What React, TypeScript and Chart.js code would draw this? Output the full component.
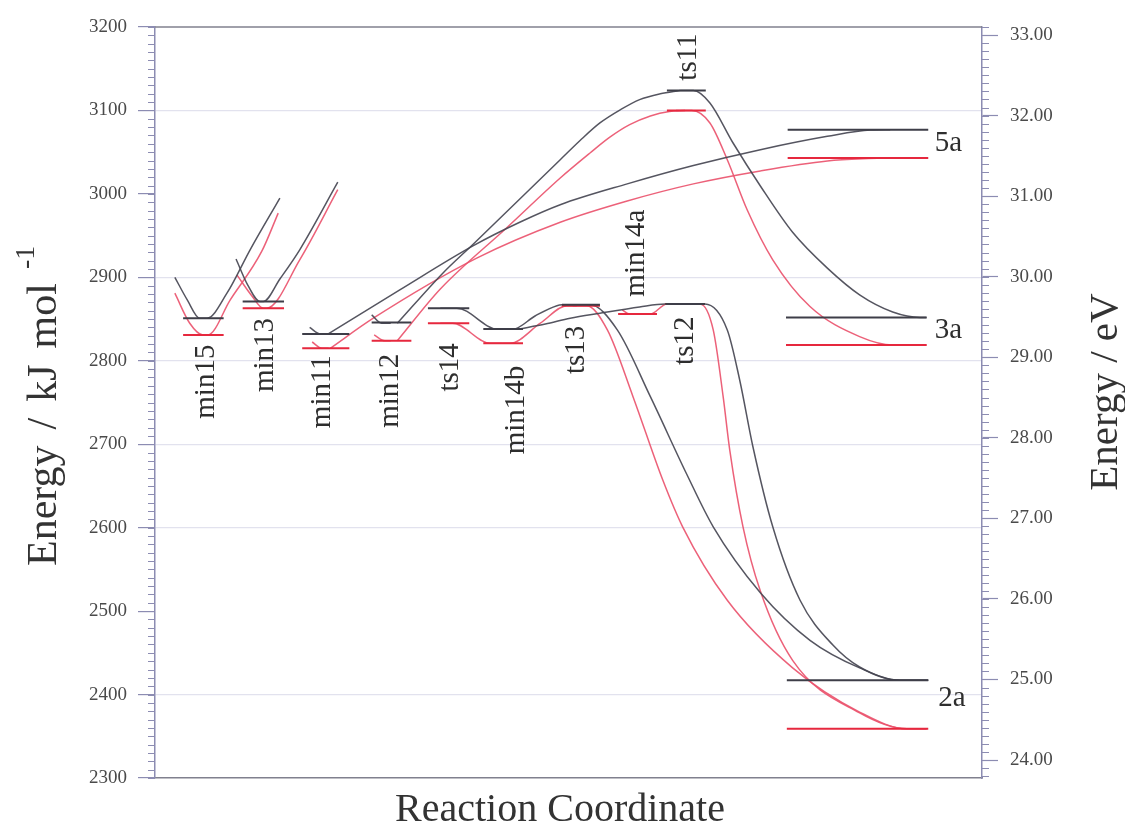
import React, { useEffect, useRef } from 'react';
import { Chart, registerables } from 'chart.js';

Chart.register(...registerables);

const SERIF = "'Liberation Serif', 'Times New Roman', Times, serif";

// ---- axis ticks ----
const kjTicks = [2300, 2400, 2500, 2600, 2700, 2800, 2900, 3000, 3100, 3200];
const evTicks = [24, 25, 26, 27, 28, 29, 30, 31, 32, 33];
const kjGridLines = [2400, 2600, 2700, 2800, 2900, 3100];

// ---- energy levels (x in reaction-coordinate units 0..100, energy in kJ/mol) ----
const levelNames = ['min15', 'min13', 'min11', 'min12', 'ts14', 'min14b', 'ts13', 'min14a', 'ts12', 'ts11', '5a', '3a', '2a'];
const levelStart = [3.4, 10.6, 17.8, 26.2, 33.0, 39.7, 49.2, 56.0, 61.7, 61.9, 76.5, 76.3, 76.4];
const levelEnd = [8.3, 15.6, 23.5, 31.0, 38.0, 44.5, 53.8, 60.7, 66.5, 66.6, 93.5, 93.3, 93.5];
const levelBlack = [2851, 2871, 2832, 2846, 2863, 2838, 2867, null, 2868, 3124, 3077, 2852, 2417];
const levelRed = [2831, 2863, 2815, 2824, 2845, 2821, 2866, 2856, 2868, 3100, 3043, 2819, 2359];

// ---- level labels ----
const labelX = [6.2, 13.3, 20.3, 28.5, 35.7, 43.7, 51.0, 58.2, 64.1, 64.5, 94.3, 94.3, 94.7];
const labelY = [2775, 2807, 2763, 2764, 2792, 2741, 2813, 2929, 2824, 3164, 3060, 2837, 2396];
const labelVertical = [true, true, true, true, true, true, true, true, true, true, false, false, false];

// ---- connecting curves: black ----
const blkMin15 = [[2.4, 2900], [3.9, 2873], [5.4, 2851], [6.3, 2851], [8.7, 2881], [11.5, 2933], [15.1, 2995]];
const blkMin13 = [[9.8, 2922], [11.2, 2891], [12.7, 2871], [13.1, 2871], [15.1, 2898], [17.5, 2933], [22.1, 3014]];
const blkMin11Hook = [[18.7, 2840], [20.0, 2832], [21.0, 2832]];
const blkMin11To5a = [[20.9, 2832], [29.6, 2885], [38.5, 2938], [44.1, 2966], [49.0, 2987], [57.1, 3012], [65.1, 3034], [73.2, 3053], [81.3, 3069], [86.5, 3076.6], [88.9, 3077]];
const blkMin12Hook = [[26.2, 2855], [27.4, 2845], [28.5, 2845]];
const blkMin12ToTs11 = [[29.3, 2845], [34.8, 2905], [38.5, 2940], [49.0, 3041], [51.4, 3064], [53.8, 3085], [56.3, 3101], [58.6, 3113], [61.1, 3120], [63.5, 3124]];
const blkTs14ToMin14b = [[34.5, 2863], [36.5, 2863], [41.4, 2838], [43.0, 2838]];
const blkMin14bToTs13 = [[42.0, 2838], [43.3, 2838], [46.0, 2854], [48.6, 2866], [49.2, 2867], [50.5, 2867]];
const blkMin14bToTs12 = [[44.0, 2838], [47.2, 2844], [50.2, 2851], [53.8, 2857], [58.6, 2864.5], [61.7, 2868], [63.5, 2868]];
const blkTs13To2a = [[51.0, 2867], [52.6, 2867], [55.9, 2837], [59.9, 2757], [64.3, 2664], [67.5, 2601], [73.2, 2522], [79.2, 2465], [85.2, 2432], [90.1, 2417], [93.5, 2417]];
const blkTs12To2a = [[64.5, 2868], [66.5, 2868], [69.2, 2837], [70.7, 2777], [72.3, 2697], [74.7, 2601], [78.0, 2513], [82.0, 2459], [85.2, 2433], [90.1, 2417], [93.5, 2417]];
const blkTs11To3a = [[63.5, 3124], [65.1, 3124], [67.1, 3109], [69.9, 3061], [73.2, 3009.5], [77.1, 2954], [81.3, 2911], [85.2, 2879], [89.2, 2858.5], [92.5, 2852], [93.3, 2852]];

// ---- connecting curves: red ----
const redMin15 = [[2.4, 2881], [4.2, 2845], [5.8, 2831], [6.4, 2831], [9.1, 2873], [12.9, 2931], [14.9, 2977]];
const redMin13 = [[9.9, 2903], [11.7, 2878], [13.1, 2863], [13.5, 2863], [17.5, 2921], [22.1, 3005]];
const redMin11Hook = [[19.0, 2822.5], [20.2, 2815], [21.0, 2815]];
const redMin11To5a = [[21.2, 2815], [26.4, 2851], [38.9, 2923], [49.0, 2966], [57.1, 2991.5], [65.1, 3012], [73.2, 3027.5], [81.3, 3039.4], [87.7, 3043]];
const redMin12Hook = [[26.5, 2831], [27.8, 2824], [28.5, 2824]];
const redMin12ToTs11 = [[29.3, 2824], [34.5, 2886], [42.6, 2960], [49.0, 3019], [52.6, 3049], [55.0, 3068], [57.4, 3083], [59.9, 3093.4], [62.2, 3098.8], [64.1, 3100]];
const redTs14ToMin14b = [[34.5, 2845], [36.0, 2845], [40.5, 2821], [42.0, 2821]];
const redMin14bToTs13 = [[42.0, 2821], [42.9, 2821], [46.6, 2845], [49.8, 2866], [51.0, 2866]];
const redMin14aHook = [[56.5, 2861], [57.4, 2856], [58.2, 2856]];
const redMin14aToTs12 = [[59.0, 2856], [59.9, 2856], [61.9, 2868], [63.0, 2868]];
const redTs13To2a = [[50.5, 2866], [52.2, 2866], [54.7, 2837], [57.8, 2757], [61.4, 2657], [63.8, 2601], [69.2, 2513], [77.1, 2432], [85.2, 2379], [90.9, 2359], [93.3, 2359]];
const redTs12To2a = [[64.0, 2868], [65.9, 2868], [67.5, 2837], [68.7, 2757], [69.5, 2693], [71.1, 2601], [73.2, 2524], [77.1, 2441], [85.2, 2378], [90.9, 2359], [93.3, 2359]];
const redTs11To3a = [[63.0, 3100], [64.9, 3100], [67.1, 3085], [69.2, 3041], [71.6, 2981], [74.7, 2921], [79.2, 2865], [85.2, 2829], [89.2, 2819], [91.3, 2819], [93.3, 2819]];

const blackCurves = [blkMin15, blkMin13, blkMin11Hook, blkMin11To5a, blkMin12Hook, blkMin12ToTs11, blkTs14ToMin14b, blkMin14bToTs13, blkMin14bToTs12, blkTs13To2a, blkTs12To2a, blkTs11To3a];
const redCurves = [redMin15, redMin13, redMin11Hook, redMin11To5a, redMin12Hook, redMin12ToTs11, redTs14ToMin14b, redMin14bToTs13, redMin14aHook, redMin14aToTs12, redTs13To2a, redTs12To2a, redTs11To3a];

const BLACK_CURVE = 'rgba(70,70,82,0.92)';
const RED_CURVE = 'rgba(234,84,110,0.92)';
const BLACK_LEVEL = '#3e3e48';
const RED_LEVEL = '#e6283e';
const AXIS = '#8c8cb2';

function curveDataset(pts: number[][], color: string) {
  return {
    type: 'line' as const,
    data: pts.map(([x, y]) => ({ x, y })),
    borderColor: color,
    borderWidth: 1.5,
    pointRadius: 0,
    cubicInterpolationMode: 'monotone' as const,
    fill: false,
    yAxisID: 'y',
    xAxisID: 'x',
    order: 2,
  };
}

function levelDataset(energies: (number | null)[], color: string) {
  const data: { x: number; y: number | null }[] = [];
  energies.forEach((e, i) => {
    if (e == null) return;
    data.push({ x: levelStart[i], y: e }, { x: levelEnd[i], y: e }, { x: levelEnd[i], y: null });
  });
  return {
    type: 'line' as const,
    data,
    borderColor: color,
    borderWidth: 2,
    pointRadius: 0,
    tension: 0,
    spanGaps: false,
    fill: false,
    yAxisID: 'y',
    xAxisID: 'x',
    order: 1,
  };
}

const decorPlugin = {
  id: 'decor',
  afterDraw(chart: any) {
    const { ctx, chartArea, scales } = chart;
    const x = scales.x;
    const y = scales.y;
    const y2 = scales.y2;
    ctx.save();

    // top frame line
    ctx.strokeStyle = '#80808e';
    ctx.lineWidth = 1.5;
    ctx.beginPath();
    ctx.moveTo(chartArea.left, chartArea.top);
    ctx.lineTo(chartArea.right, chartArea.top);
    ctx.stroke();

    // minor ticks
    ctx.strokeStyle = AXIS;
    ctx.lineWidth = 1;
    ctx.beginPath();
    for (let v = y.min; v <= y.max + 0.001; v += 10) {
      const py = Math.round(y.getPixelForValue(v)) + 0.5;
      ctx.moveTo(chartArea.left - 7, py);
      ctx.lineTo(chartArea.left, py);
    }
    for (let k = Math.ceil(y2.min * 10); k <= Math.floor(y2.max * 10); k++) {
      const py = Math.round(y2.getPixelForValue(k / 10)) + 0.5;
      ctx.moveTo(chartArea.right, py);
      ctx.lineTo(chartArea.right + 7, py);
    }
    ctx.stroke();

    // level labels
    ctx.fillStyle = '#2e2e2e';
    ctx.font = `29px ${SERIF}`;
    levelNames.forEach((name, i) => {
      const px = x.getPixelForValue(labelX[i]);
      const py = y.getPixelForValue(labelY[i]);
      ctx.save();
      ctx.translate(px, py);
      if (labelVertical[i]) {
        ctx.rotate(-Math.PI / 2);
        ctx.textAlign = 'center';
      } else {
        ctx.textAlign = 'left';
      }
      ctx.textBaseline = 'middle';
      ctx.fillText(name, 0, 0);
      ctx.restore();
    });

    // axis titles
    ctx.fillStyle = '#333';
    // left
    ctx.save();
    ctx.translate(56, 566);
    ctx.rotate(-Math.PI / 2);
    ctx.textAlign = 'left';
    ctx.textBaseline = 'alphabetic';
    ctx.font = `42px ${SERIF}`;
    const parts = ['Energy', '/', 'kJ', 'mol'];
    let cx = 0;
    parts.forEach((p, i) => {
      ctx.fillText(p, cx, 0);
      cx += ctx.measureText(p).width + (i < parts.length - 1 ? 16 : 14);
    });
    ctx.font = `28px ${SERIF}`;
    ctx.fillText('-1', cx, -22);
    ctx.restore();

    // right
    ctx.save();
    ctx.translate(1117, 392);
    ctx.rotate(-Math.PI / 2);
    ctx.textAlign = 'center';
    ctx.textBaseline = 'alphabetic';
    ctx.font = `41px ${SERIF}`;
    ctx.fillText('Energy / eV', 0, 0);
    ctx.restore();

    // bottom
    ctx.textAlign = 'center';
    ctx.textBaseline = 'alphabetic';
    ctx.font = `40px ${SERIF}`;
    ctx.fillText('Reaction Coordinate', 560, 821);

    ctx.restore();
  },
};

export default function App() {
  const ref = useRef<HTMLCanvasElement>(null);

  useEffect(() => {
    const canvas = ref.current;
    if (!canvas) return;
    const datasets: any[] = [
      ...blackCurves.map((c) => curveDataset(c, BLACK_CURVE)),
      ...redCurves.map((c) => curveDataset(c, RED_CURVE)),
      levelDataset(levelBlack, BLACK_LEVEL),
      levelDataset(levelRed, RED_LEVEL),
    ];
    const chart = new Chart(canvas, {
      type: 'line',
      data: { datasets },
      options: {
        animation: false,
        responsive: false,
        devicePixelRatio: 1,
        events: [],
        layout: { padding: { top: 27, left: 0, right: 0, bottom: 0 } },
        plugins: { legend: { display: false }, tooltip: { enabled: false }, title: { display: false } },
        scales: {
          x: {
            type: 'linear',
            position: 'bottom',
            min: 0,
            max: 100,
            ticks: { display: false },
            grid: { display: false, drawTicks: false },
            border: { display: true, color: '#80808e', width: 1.5 },
            afterFit: (s: any) => {
              s.height = 48;
              s.paddingLeft = 0;
              s.paddingRight = 0;
            },
          },
          y: {
            type: 'linear',
            axis: 'y',
            position: 'left',
            min: 2300,
            max: 3200,
            afterBuildTicks: (s: any) => {
              s.ticks = kjTicks.map((v) => ({ value: v }));
            },
            ticks: {
              color: '#4a4a4a',
              font: { family: SERIF, size: 19 },
              padding: 11,
              callback: (v: any) => String(v),
            },
            grid: {
              color: (c: any) => (c.tick && kjGridLines.includes(c.tick.value) ? '#e2e2ee' : 'rgba(0,0,0,0)'),
              lineWidth: 1.2,
              tickColor: AXIS,
              tickLength: 17,
              tickWidth: 1.2,
              drawOnChartArea: true,
            },
            border: { display: true, color: AXIS, width: 1.5 },
            afterFit: (s: any) => {
              s.width = 155;
              s.paddingTop = 0;
              s.paddingBottom = 0;
            },
          },
          y2: {
            type: 'linear',
            axis: 'y',
            position: 'right',
            min: 23.777,
            max: 33.1,
            afterBuildTicks: (s: any) => {
              s.ticks = evTicks.map((v) => ({ value: v }));
            },
            ticks: {
              color: '#4a4a4a',
              font: { family: SERIF, size: 19 },
              padding: 12,
              callback: (v: any) => Number(v).toFixed(2),
            },
            grid: {
              drawOnChartArea: false,
              tickColor: AXIS,
              tickLength: 16,
              tickWidth: 1.2,
            },
            border: { display: true, color: AXIS, width: 1.5 },
            afterFit: (s: any) => {
              s.width = 143;
              s.paddingTop = 0;
              s.paddingBottom = 0;
            },
          },
        },
      } as any,
      plugins: [decorPlugin],
    });
    return () => chart.destroy();
  }, []);

  return (
    <div style={{ position: 'fixed', left: 0, top: 0, width: 1125, height: 826, background: '#fff' }}>
      <canvas ref={ref} width={1125} height={826} style={{ display: 'block', width: 1125, height: 826 }} />
    </div>
  );
}
